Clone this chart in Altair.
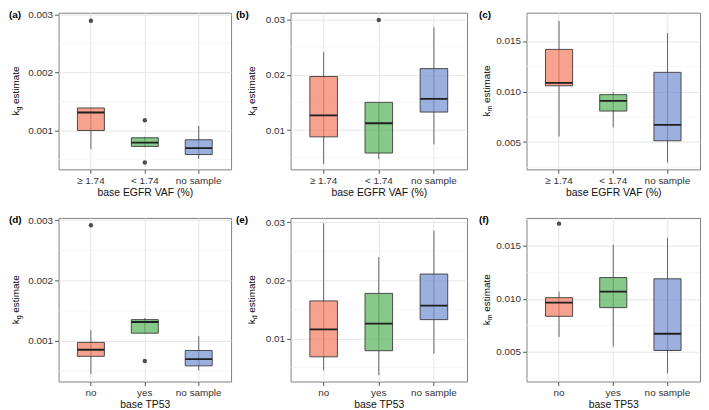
import altair as alt
import pandas as pd

FONT = "Liberation Sans"

EGFR = ["≥ 1.74", "< 1.74", "no sample"]
TP53 = ["no", "yes", "no sample"]
FILLS = ["#F48269", "#5EB763", "#7A95D3"]

# (a) k_g vs base EGFR VAF
a_lo = [0.000675, 0.00071, 0.00051]
a_q1 = [0.00100, 0.000725, 0.000585]
a_med = [0.00131, 0.00079, 0.000697]
a_q3 = [0.001388, 0.000874, 0.00084]
a_hi = [0.001388, 0.00089, 0.001078]
a_out_cat = ["≥ 1.74", "< 1.74", "< 1.74"]
a_out_val = [0.00289, 0.001177, 0.000448]

# (b) k_d vs base EGFR VAF
b_lo = [0.00384, 0.00472, 0.0074]
b_q1 = [0.00877, 0.00585, 0.01325]
b_med = [0.01264, 0.01123, 0.01565]
b_q3 = [0.01967, 0.0150, 0.0211]
b_hi = [0.02407, 0.0150, 0.02855]
b_out_cat = ["< 1.74"]
b_out_val = [0.02988]

# (c) k_m vs base EGFR VAF
c_lo = [0.00554, 0.00646, 0.00298]
c_q1 = [0.01057, 0.00807, 0.00513]
c_med = [0.01085, 0.00908, 0.00671]
c_q3 = [0.01417, 0.00969, 0.0119]
c_hi = [0.01699, 0.00994, 0.01579]
c_out_cat = []
c_out_val = []

# (d) k_g vs base TP53
d_lo = [0.000451, 0.001127, 0.00051]
d_q1 = [0.000743, 0.001127, 0.000585]
d_med = [0.000852, 0.001313, 0.000697]
d_q3 = [0.000974, 0.001352, 0.00084]
d_hi = [0.001176, 0.00138, 0.001078]
d_out_cat = ["no", "yes"]
d_out_val = [0.00292, 0.000666]

# (e) k_d vs base TP53
e_lo = [0.00453, 0.0037, 0.0074]
e_q1 = [0.00685, 0.0079, 0.01325]
e_med = [0.01157, 0.01257, 0.01565]
e_q3 = [0.01647, 0.01776, 0.0211]
e_hi = [0.02983, 0.0240, 0.02855]
e_out_cat = []
e_out_val = []

# (f) k_m vs base TP53
f_lo = [0.00641, 0.0055, 0.00298]
f_q1 = [0.00836, 0.00918, 0.00513]
f_med = [0.00965, 0.01069, 0.00671]
f_q3 = [0.01012, 0.01202, 0.0119]
f_hi = [0.01069, 0.01512, 0.01579]
f_out_cat = ["no"]
f_out_val = [0.01711]

# axis breaks
KG_MAJOR = [0.001, 0.002, 0.003]
KG_MINOR = [0.0005, 0.0015, 0.0025]
KD_MAJOR = [0.01, 0.02, 0.03]
KD_MINOR = [0.005, 0.015, 0.025]
KM_MAJOR = [0.005, 0.010, 0.015]
KM_MINOR = [0.0025, 0.0075, 0.0125, 0.0175]

WIDTHS = [174, 178, 175]
HEIGHTS = [158, 165]
TAG_X = [-50, -55, -48]
YT_X = [-40, -36, -37]


def panel(tag, sub, cats, xtitle, lo, q1, med, q3, hi, out_cat, out_val,
          domain, majors, minors, fmt, col, row):
    w = WIDTHS[col]
    h = HEIGHTS[row]
    box = pd.DataFrame({"cat": cats, "lo": lo, "q1": q1, "med": med,
                        "q3": q3, "hi": hi, "fill": FILLS})
    xs = alt.Scale(type="band", domain=cats, paddingInner=0.5, paddingOuter=0.35)
    xax = alt.Axis(title=xtitle, labelAngle=0, grid=True)
    ys = alt.Scale(domain=domain, nice=False, zero=False)
    yax = alt.Axis(title=None, values=majors, format=fmt, grid=True)
    X = alt.X("cat:N", scale=xs, axis=xax, sort=cats)

    def Y(f):
        return alt.Y(f"{f}:Q", scale=ys, axis=yax)

    minor = alt.Chart(pd.DataFrame({"v": minors})).mark_rule(
        color="#F3F3F3", strokeWidth=0.7).encode(y=Y("v"))
    whisk = alt.Chart(box).mark_rule(color="#555555", strokeWidth=0.9).encode(
        x=X, y=Y("lo"), y2="hi:Q")
    bars = alt.Chart(box).mark_bar(stroke="#3a3a3a", strokeWidth=0.9,
                                   fillOpacity=0.75).encode(
        x=X, y=Y("q1"), y2="q3:Q", fill=alt.Fill("fill:N", scale=None))
    meds = alt.Chart(box).mark_bar(fillOpacity=0, stroke="#1f1f1f",
                                   strokeWidth=1.8).encode(
        x=X, y=Y("med"), y2="med:Q")
    layers = [minor, whisk, bars, meds]
    if out_val:
        outs = alt.Chart(pd.DataFrame({"cat": out_cat, "v": out_val})).mark_circle(
            size=20, color="#4d4d4d", opacity=1).encode(x=X, y=Y("v"))
        layers.append(outs)

    tagc = alt.Chart(pd.DataFrame({"t": [tag]})).mark_text(
        align="left", baseline="alphabetic", fontWeight="bold", fontSize=10,
        font=FONT, color="black").encode(
        x=alt.value(TAG_X[col]), y=alt.value(5.5), text="t:N")
    layers.append(tagc)

    # y title: "k" + subscript + "estimate", rotated
    fs = 10
    subfs = 7
    subw = {"g": 0.556, "d": 0.556, "m": 0.833}[sub] * subfs
    space = 0.278 * fs
    total = 0.5 * fs + subw + space + 3.779 * fs
    yc = h / 2
    x0 = YT_X[col]
    y_k = yc + total / 2
    y_s = y_k - 0.5 * fs
    y_e = y_s - subw - space
    parts = [("k", fs, x0, y_k), (sub, subfs, x0 + 2.5, y_s),
             ("estimate", fs, x0, y_e)]
    for txt, size, px, py in parts:
        layers.append(
            alt.Chart(pd.DataFrame({"t": [txt]})).mark_text(
                align="left", baseline="alphabetic", angle=270, fontSize=size,
                font=FONT, color="black").encode(
                x=alt.value(px), y=alt.value(py), text="t:N"))
    return alt.layer(*layers).properties(width=w, height=h)


pa = panel("(a)", "g", EGFR, "base EGFR VAF (%)", a_lo, a_q1, a_med, a_q3, a_hi,
           a_out_cat, a_out_val, [0.00033, 0.00303], KG_MAJOR, KG_MINOR, ".3f", 0, 0)
pb = panel("(b)", "d", EGFR, "base EGFR VAF (%)", b_lo, b_q1, b_med, b_q3, b_hi,
           b_out_cat, b_out_val, [0.0029, 0.0312], KD_MAJOR, KD_MINOR, ".2f", 1, 0)
pc = panel("(c)", "m", EGFR, "base EGFR VAF (%)", c_lo, c_q1, c_med, c_q3, c_hi,
           c_out_cat, c_out_val, [0.0023, 0.0178], KM_MAJOR, KM_MINOR, ".3f", 2, 0)
pd_ = panel("(d)", "g", TP53, "base TP53", d_lo, d_q1, d_med, d_q3, d_hi,
            d_out_cat, d_out_val, [0.000325, 0.00304], KG_MAJOR, KG_MINOR, ".3f", 0, 1)
pe = panel("(e)", "d", TP53, "base TP53", e_lo, e_q1, e_med, e_q3, e_hi,
           e_out_cat, e_out_val, [0.0026, 0.03075], KD_MAJOR, KD_MINOR, ".2f", 1, 1)
pf = panel("(f)", "m", TP53, "base TP53", f_lo, f_q1, f_med, f_q3, f_hi,
           f_out_cat, f_out_val, [0.0022, 0.01765], KM_MAJOR, KM_MINOR, ".3f", 2, 1)

chart = alt.concat(
    pa, pb, pc, pd_, pe, pf, columns=3,
    spacing={"row": 49, "column": 60}, bounds="flush"
).resolve_scale(x="independent", y="independent").properties(
    padding={"top": -1, "left": 0, "right": 0, "bottom": 0}
).configure_view(
    stroke="#808080", strokeWidth=1
).configure_axis(
    labelFont=FONT, titleFont=FONT, labelFontSize=10, titleFontSize=10.5,
    labelColor="#333333", titleColor="#111111", titleFontWeight="normal",
    tickColor="#555555", tickSize=4, domain=False,
    gridColor="#E6E6E6", gridWidth=1,
).configure_axisX(
    labelPadding=2, titlePadding=2
).configure_axisY(
    labelPadding=2
)

chart.save("out.html", embed_options={"renderer": "svg", "actions": False})
